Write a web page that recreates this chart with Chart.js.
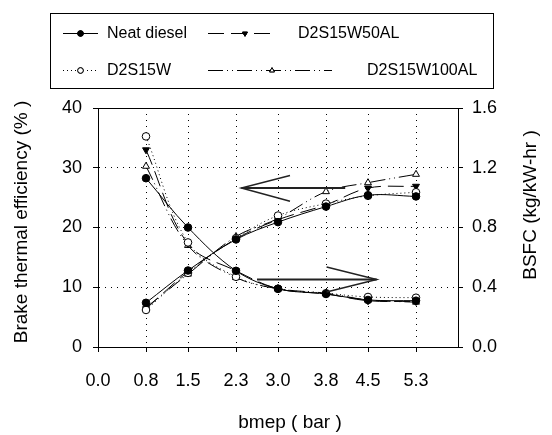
<!DOCTYPE html>
<html><head><meta charset="utf-8">
<style>html,body{margin:0;padding:0;background:#fff;} #wrap{width:552px;height:435px;position:relative;}</style>
<script src="https://cdn.jsdelivr.net/npm/chart.js@4.4.1/dist/chart.umd.min.js"></script>
</head><body><div id="wrap"><canvas id="c" width="552" height="435"></canvas></div>
<script>
// ---------- data ----------
const bmep = [0.8, 1.5, 2.3, 3.0, 3.8, 4.5, 5.3];
const xTickValues = [0, 0.8, 1.5, 2.3, 3.0, 3.8, 4.5, 5.3];
const leftTickValues = [0, 10, 20, 30, 40];
const rightTickValues = [0, 0.4, 0.8, 1.2, 1.6];
const seriesNames = ['Neat diesel', 'D2S15W', 'D2S15W50AL', 'D2S15W100AL'];
// brake thermal efficiency (%)
const bteNeat      = [7.4, 12.8, 18.0, 20.9, 23.5, 25.4, 25.2];
const bteD2S15W    = [6.2, 12.4, 18.2, 22.0, 24.0, 25.3, 25.9];
const bte50AL      = [6.4, 12.6, 18.1, 21.3, 23.8, 26.6, 26.9];
const bte100AL     = [6.6, 12.2, 18.5, 21.5, 26.0, 27.5, 28.9];
// BSFC (kg/kW-hr)
const bsfcNeat     = [1.13, 0.80, 0.51, 0.39, 0.355, 0.315, 0.31];
const bsfcD2S15W   = [1.41, 0.70, 0.47, 0.39, 0.36, 0.335, 0.33];
const bsfc50AL     = [1.32, 0.69, 0.51, 0.39, 0.355, 0.31, 0.305];
const bsfc100AL    = [1.21, 0.68, 0.465, 0.39, 0.36, 0.315, 0.30];
// annotation arrows (data units: bmep, BTE %)
const arrowTopTail = [4.12, 26.6], arrowTopTip = [2.39, 26.6], arrowTopBarbX = 3.2, arrowTopBarbY = [28.7, 24.4];
const arrowLowTail = [2.65, 11.3], arrowLowTip = [4.645, 11.3], arrowLowBarbX = 3.81, arrowLowBarbY = [13.4, 9.2];

// ---------- styles ----------
const FONT = '"Liberation Sans", Arial, sans-serif';
const styles = [
  {dash: [], point: 'circle', rot: 0, fill: '#000', r: 3.8},
  {dash: [1, 3], point: 'circle', rot: 0, fill: '#fff', r: 3.8},
  {dash: [16, 7], point: 'triangle', rot: 180, fill: '#000', r: 4},
  {dash: [15, 4, 1, 4, 1, 4], point: 'triangle', rot: 0, fill: '#fff', r: 4}
];
const bteSeries = [bteNeat, bteD2S15W, bte50AL, bte100AL];
const bsfcSeries = [bsfcNeat, bsfcD2S15W, bsfc50AL, bsfc100AL];

function mk(i, vals, axis) {
  const st = styles[i];
  return {
    label: seriesNames[i], yAxisID: axis,
    data: bmep.map((x, k) => ({x: x, y: vals[k]})),
    borderColor: '#000', borderWidth: 1, borderDash: st.dash,
    pointStyle: st.point, pointRotation: st.rot, pointRadius: st.r,
    pointBackgroundColor: st.fill, pointBorderColor: '#000', pointBorderWidth: 1,
    tension: 0.35, fill: false
  };
}
const datasets = [];
bteSeries.forEach((s, i) => datasets.push(mk(i, s, 'y')));
bsfcSeries.forEach((s, i) => datasets.push(mk(i, s, 'y1')));

function drawMarker(ctx, st, x, y, r) {
  ctx.save();
  ctx.setLineDash([]);
  ctx.fillStyle = st.fill; ctx.strokeStyle = '#000'; ctx.lineWidth = 1;
  Chart.helpers.drawPoint(ctx, {pointStyle: st.point, rotation: st.rot, radius: r, borderWidth: 1}, x, y);
  ctx.fill(); ctx.stroke();
  ctx.restore();
}

const decor = {
  id: 'decor',
  beforeDatasetsDraw(chart) {
    const {ctx, chartArea: a} = chart;
    ctx.save(); ctx.strokeStyle = '#000'; ctx.lineWidth = 1;
    ctx.beginPath(); ctx.moveTo(a.left, Math.round(a.top) + 0.5); ctx.lineTo(a.right, Math.round(a.top) + 0.5); ctx.stroke();
    ctx.restore();
  },
  afterDatasetsDraw(chart) {
    const {ctx} = chart; const xs = chart.scales.x, ys = chart.scales.y;
    const P = (p) => [xs.getPixelForValue(p[0]), ys.getPixelForValue(p[1])];
    const arrows = [
      {tail: arrowTopTail, tip: arrowTopTip, bx: arrowTopBarbX, by: arrowTopBarbY},
      {tail: arrowLowTail, tip: arrowLowTip, bx: arrowLowBarbX, by: arrowLowBarbY}
    ];
    ctx.save(); ctx.strokeStyle = '#222'; ctx.lineCap = 'butt';
    arrows.forEach(a => {
      const t = P(a.tail), h = P(a.tip), b1 = P([a.bx, a.by[0]]), b2 = P([a.bx, a.by[1]]);
      ctx.lineWidth = 2;
      ctx.beginPath(); ctx.moveTo(t[0], t[1]); ctx.lineTo(h[0], h[1]); ctx.stroke();
      ctx.lineWidth = 1.5;
      ctx.beginPath(); ctx.moveTo(b1[0], b1[1]); ctx.lineTo(h[0], h[1]); ctx.lineTo(b2[0], b2[1]); ctx.stroke();
    });
    ctx.restore();
  },
  afterDraw(chart) {
    const {ctx} = chart;
    ctx.save();
    // legend box
    ctx.strokeStyle = '#000'; ctx.lineWidth = 1;
    ctx.strokeRect(50.5, 13.5, 443, 75);
    const items = [
      {i: 0, x0: 63, x1: 98, mx: 80.5, tx: 107, y: 33},
      {i: 2, x0: 208, x1: 274, mx: 245, tx: 298, y: 33},
      {i: 1, x0: 63, x1: 98, mx: 80.5, tx: 107, y: 70},
      {i: 3, x0: 208, x1: 332, mx: 272, tx: 367, y: 70}
    ];
    ctx.font = '16px ' + FONT; ctx.fillStyle = '#000'; ctx.textBaseline = 'middle'; ctx.textAlign = 'left';
    items.forEach(it => {
      const st = styles[it.i];
      ctx.save(); ctx.lineWidth = 1; ctx.strokeStyle = '#000'; ctx.setLineDash(st.dash);
      ctx.beginPath(); ctx.moveTo(it.x0, it.y + 0.5); ctx.lineTo(it.x1, it.y + 0.5); ctx.stroke();
      ctx.restore();
      drawMarker(ctx, st, it.mx, it.y + 0.5, 2.8);
      ctx.fillText(seriesNames[it.i], it.tx, it.y + 1);
    });
    // axis titles
    ctx.font = '19px ' + FONT; ctx.textAlign = 'center'; ctx.textBaseline = 'middle';
    ctx.fillText('bmep ( bar )', 290, 423);
    ctx.save(); ctx.translate(22, 222); ctx.rotate(-Math.PI / 2); ctx.fillText('Brake thermal efficiency (% )', 0, 0); ctx.restore();
    ctx.save(); ctx.translate(531, 205); ctx.rotate(-Math.PI / 2); ctx.fillText('BSFC (kg/kW-hr )', 0, 0); ctx.restore();
    ctx.restore();
  }
};

const gridCommon = {color: '#000', lineWidth: 1, tickLength: 5, tickColor: '#000', tickWidth: 1};

new Chart(document.getElementById('c'), {
  type: 'line',
  data: {datasets: datasets},
  options: {
    responsive: false, animation: false, devicePixelRatio: 1,
    layout: {padding: {top: 108, left: 0, right: 0, bottom: 0}},
    plugins: {legend: {display: false}, tooltip: {enabled: false}},
    scales: {
      x: {
        type: 'linear', min: 0, max: 6, position: 'bottom',
        afterBuildTicks: s => { s.ticks = xTickValues.map(v => ({value: v})); },
        afterFit: s => { s.height = 88; },
        ticks: {autoSkip: false, maxRotation: 0, padding: 18, color: '#000', font: {family: FONT, size: 18},
                callback: v => Number(v).toFixed(1)},
        grid: Object.assign({}, gridCommon, {color: c => (c.tick && c.tick.value === 0) ? 'rgba(0,0,0,0)' : '#000'}),
        border: {display: true, color: '#000', width: 1, dash: [1, 5]}
      },
      y: {
        type: 'linear', min: 0, max: 40, position: 'left',
        afterBuildTicks: s => { s.ticks = leftTickValues.map(v => ({value: v})); },
        afterFit: s => { s.width = 98; },
        ticks: {padding: 11, color: '#000', font: {family: FONT, size: 18}, callback: v => String(v)},
        grid: Object.assign({}, gridCommon, {color: c => (c.tick && (c.tick.value === 0 || c.tick.value === 40)) ? 'rgba(0,0,0,0)' : '#000'}),
        border: {display: true, color: '#000', width: 1, dash: [1, 5]}
      },
      y1: {
        type: 'linear', min: 0, max: 1.6, position: 'right',
        afterBuildTicks: s => { s.ticks = rightTickValues.map(v => ({value: v})); },
        afterFit: s => { s.width = 94; },
        ticks: {padding: 9, color: '#000', font: {family: FONT, size: 18}, callback: v => Number(v).toFixed(1)},
        grid: Object.assign({}, gridCommon, {drawOnChartArea: false}),
        border: {display: true, color: '#000', width: 1}
      }
    }
  },
  plugins: [decor]
});
</script>
</body></html>
